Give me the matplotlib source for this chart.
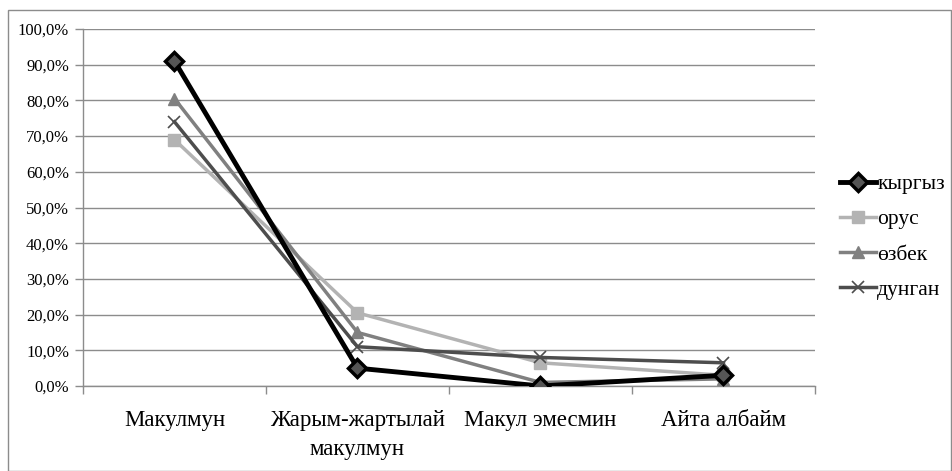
import matplotlib
matplotlib.use("Agg")
import matplotlib.pyplot as plt
from matplotlib.ticker import FuncFormatter, FixedLocator
from matplotlib.patches import Rectangle

categories = ["Макулмун", "Жарым-жартылай\nмакулмун", "Макул эмесмин", "Айта албайм"]
kyrgyz = [91.0, 5.0, 0.0, 3.0]
orus = [69.0, 20.5, 6.5, 3.0]
ozbek = [80.5, 15.0, 1.0, 2.0]
dungan = [74.0, 11.0, 8.0, 6.5]
series_names = ["кыргыз", "орус", "өзбек", "дунган"]
yticks = [0, 10, 20, 30, 40, 50, 60, 70, 80, 90, 100]

plt.rcParams['font.family'] = ['Liberation Serif', 'DejaVu Serif']

fig = plt.figure(figsize=(9.53, 4.71), dpi=100)
fig.patches.append(Rectangle((8/953, 0.0), 1 - 8/953 - 2/953, 1 - 10/471, transform=fig.transFigure,
                             fill=False, edgecolor="#8c8c8c", linewidth=1.0))
ax = fig.add_axes([83/953, 1 - 386/471, (815 - 83)/953, (386 - 29)/471])

x = list(range(len(categories)))
ax.plot(x, orus, color="#b3b3b3", lw=2.5, marker="s", ms=8, mfc="#b3b3b3", mec="#b3b3b3",
        label=series_names[1], zorder=3)
ax.plot(x, ozbek, color="#808080", lw=2.5, marker="^", ms=8, mfc="#808080", mec="#808080",
        label=series_names[2], zorder=3)
ax.plot(x, dungan, color="#4d4d4d", lw=2.5, marker="x", ms=9, mew=1.2, mfc="#4d4d4d", mec="#4d4d4d",
        label=series_names[3], zorder=3)
ax.plot(x, kyrgyz, color="#000000", lw=3.5, marker="D", ms=9, mfc="#555555", mec="#000000", mew=2.5,
        label=series_names[0], zorder=4)

ax.set_xlim(-0.5, len(categories) - 0.5)
ax.set_ylim(0, 100)
ax.set_yticks(yticks)
ax.yaxis.set_major_formatter(FuncFormatter(lambda v, p: f"{v:.1f}%".replace('.', ',')))
ax.set_xticks(x)
ax.set_xticklabels(categories, fontsize=16.5, linespacing=1.55)
ax.xaxis.set_minor_locator(FixedLocator([i - 0.5 for i in range(len(categories) + 1)]))
ax.tick_params(axis='x', which='major', length=0, pad=17)
ax.tick_params(axis='x', which='minor', length=6, color="#8c8c8c", width=1)
ax.tick_params(axis='y', length=6, color="#8c8c8c", width=1, labelsize=12, pad=4)

ax.grid(axis='y', color="#8c8c8c", lw=1)
ax.set_axisbelow(True)
for s in ["top", "right"]:
    ax.spines[s].set_visible(False)
for s in ["left", "bottom"]:
    ax.spines[s].set_color("#8c8c8c")
    ax.spines[s].set_linewidth(1)

handles, labels = ax.get_legend_handles_labels()
order = [3, 0, 1, 2]
fig.legend([handles[i] for i in order], [labels[i] for i in order],
           loc="center left", bbox_to_anchor=(831/953, 1 - 237/471), frameon=False,
           fontsize=15.5, handlelength=1.7, handletextpad=0.05, labelspacing=0.7, borderaxespad=0)

fig.savefig("out.png", dpi=100)
